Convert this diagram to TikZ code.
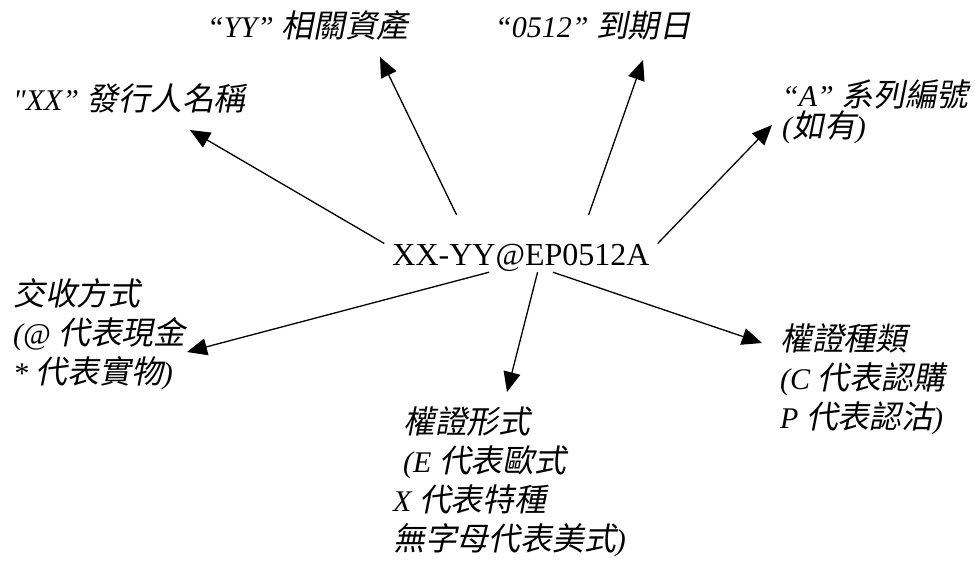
\documentclass[tikz,border=0pt]{standalone}
\usepackage{fontspec}
\setmainfont{Liberation Serif}
\newfontfamily\cjk[FakeSlant=0.2,Scale=1.06]{Noto Sans CJK TC}
\newcommand\zhtxt[1]{{\cjk\upshape #1}}
\usetikzlibrary{arrows.meta,calc,positioning}

\begin{document}
\begin{tikzpicture}[x=1pt,y=-1pt,
  every node/.style={inner sep=0pt},
  lbl/.style={anchor=base west, align=left, font=\fontsize{30}{39}\selectfont\itshape},
  arr/.style={-{Triangle[length=20pt,width=17pt]}, line width=1.3pt}]
  \useasboundingbox (0,0) rectangle (977,562);

  % warrant code in the middle
  \node[font=\fontsize{32}{38}\selectfont, anchor=base, inner xsep=8pt,
        text height=50pt, text depth=7pt] (code) at (521,265) {XX-YY@EP0512A};

  % parts of the code (placed by the baseline of their last line)
  \node[lbl] (issuer) at (13,110) {\textquotedbl XX” \zhtxt{發行人名稱}};
  \node[lbl] (asset) at (207,37) {“YY” \zhtxt{相關資產}};
  \node[lbl] (expiry) at (495,37) {“0512” \zhtxt{到期日}};
  \node[lbl, font=\fontsize{30}{31}\selectfont\itshape] (series) at (782,137)
       {“A” \zhtxt{系列編號}\\(\zhtxt{如有})};
  \node[lbl] (settle) at (13,383)
       {\zhtxt{交收方式}\\(@ \zhtxt{代表現金}\\* \zhtxt{代表實物})};
  \node[lbl] (style) at (393,550)
       {\hspace*{10pt}\zhtxt{權證形式}\\\hspace*{10pt}(E \zhtxt{代表歐式}\\X \zhtxt{代表特種}\\\zhtxt{無字母代表美式})};
  \node[lbl] (type) at (780,428)
       {\zhtxt{權證種類}\\(C \zhtxt{代表認購}\\P \zhtxt{代表認沽})};

  % arrows from the code to each part
  \draw[arr] (code.west) -- ([xshift=177pt,yshift=-20pt]issuer.base west);
  \draw[arr] (code.156) -- ([xshift=173pt,yshift=-20pt]asset.base west);
  \draw[arr] (code.23.5) -- ([xshift=148pt,yshift=-23pt]expiry.base west);
  \draw[arr] (code.east) -- ([xshift=-10pt,yshift=12pt]series.base west);
  \draw[arr] (code.222) -- ([xshift=174pt,yshift=31pt]settle.base west);
  \draw[arr] (code.300) -- ([xshift=114pt,yshift=158pt]style.base west);
  \draw[arr] (code.318) -- ([xshift=-18pt,yshift=85pt]type.base west);
\end{tikzpicture}
\end{document}
